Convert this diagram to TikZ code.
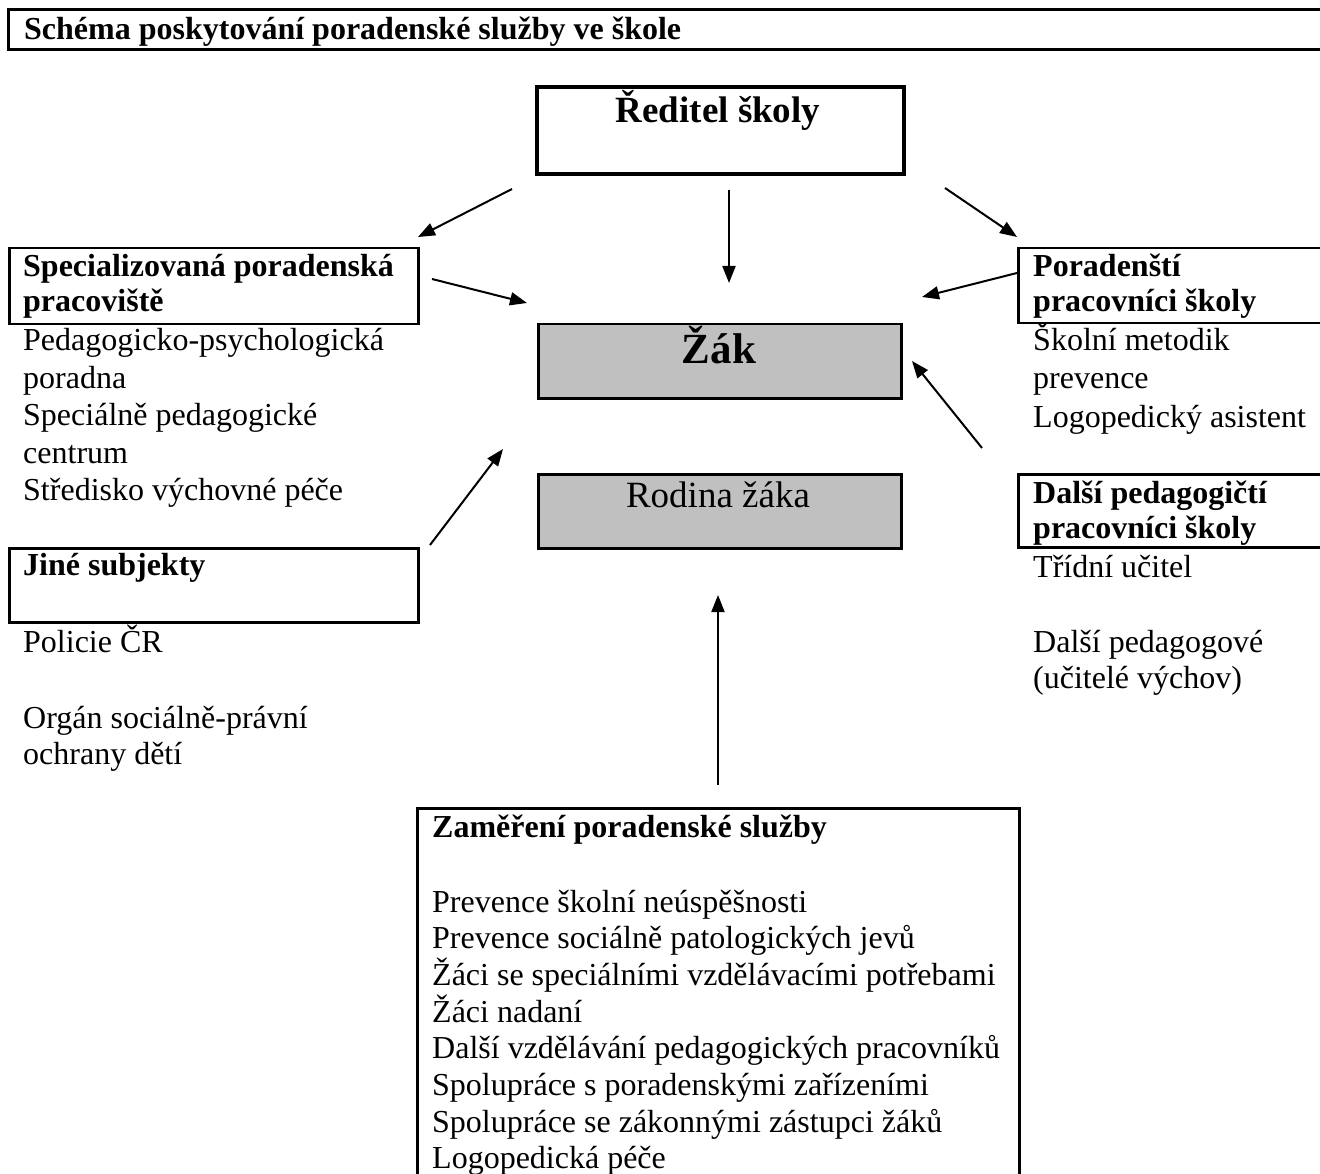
\documentclass[tikz,border=0pt]{standalone}
\usepackage{fontspec}
\setmainfont{Liberation Serif}
\usetikzlibrary{arrows.meta}
\definecolor{boxgray}{HTML}{C0C0C0}
\tikzset{
  frame/.style={draw, line width=#1, inner sep=0pt, anchor=north west},
  graybox/.style={draw, fill=boxgray, line width=2.5pt, inner sep=0pt, anchor=north west},
  txt/.style={anchor=base west, inner sep=0pt, font=\fontsize{32}{37}\selectfont},
  btxt/.style={anchor=base west, inner sep=0pt, font=\fontsize{32}{35}\selectfont\bfseries},
  arr/.style={line width=2pt, -{Triangle[length=17pt,width=13pt]}},
}
\begin{document}
\begin{tikzpicture}[x=1pt,y=-1pt]
\useasboundingbox (0,0) rectangle (1320,1174);
\clip (0,0) rectangle (1320,1174);
\fill[white] (0,0) rectangle (1320,1174);

% header
\node[frame=3pt, minimum width=1330pt, minimum height=40pt] (head) at (7,8) {};
\node[btxt] (title) at (24,40) {Schéma poskytování poradenské služby ve škole};

% director
\node[frame=4pt, minimum width=367pt, minimum height=87pt] (red) at (535,85) {};
\node[anchor=base, inner sep=0pt, font=\fontsize{37}{40}\selectfont\bfseries] (redt) at (718,123) {Ředitel školy};

% pupil and family
\node[graybox, minimum width=363pt, minimum height=74pt] (zak) at (537,323) {};
\node[anchor=base, inner sep=0pt, font=\fontsize{43}{46}\selectfont\bfseries] (zakt) at (719,363) {Žák};
\node[graybox, minimum width=363pt, minimum height=74pt] (rod) at (537,473) {};
\node[anchor=base, inner sep=0pt, font=\fontsize{37}{40}\selectfont] (rodt) at (718,507) {Rodina žáka};

% left: specialised
\node[frame=2.5pt, minimum width=409pt, minimum height=76pt] (spec) at (8,247) {};
\node[btxt] (spec1) at (23,277) {Specializovaná poradenská};
\node[btxt] (spec2) at (23,312) {pracoviště};
\node[txt] (sl1) at (23,350) {Pedagogicko-psychologická};
\node[txt] (sl2) at (23,388) {poradna};
\node[txt] (sl3) at (23,425) {Speciálně pedagogické};
\node[txt] (sl4) at (23,463) {centrum};
\node[txt] (sl5) at (23,500) {Středisko výchovné péče};

% left: other subjects
\node[frame=2.5pt, minimum width=409pt, minimum height=74pt] (jine) at (8,547) {};
\node[btxt] (jine1) at (23,575) {Jiné subjekty};
\node[txt] (jl1) at (23,652) {Policie ČR};
\node[txt] (jl2) at (23,728) {Orgán sociálně-právní};
\node[txt] (jl3) at (23,764) {ochrany dětí};

% right: counselling staff
\node[frame=2.5pt, minimum width=320pt, minimum height=75pt] (por) at (1017,247) {};
\node[btxt] (por1) at (1033,277) {Poradenští};
\node[btxt] (por2) at (1033,312) {pracovníci školy};
\node[txt] (pl1) at (1033,350) {Školní metodik};
\node[txt] (pl2) at (1033,388) {prevence};
\node[txt] (pl3) at (1033,427) {Logopedický asistent};

% right: other teachers
\node[frame=2.5pt, minimum width=320pt, minimum height=73pt] (dal) at (1017,473) {};
\node[btxt] (dal1) at (1033,503) {Další pedagogičtí};
\node[btxt] (dal2) at (1033,538) {pracovníci školy};
\node[txt] (dl1) at (1033,577) {Třídní učitel};
\node[txt] (dl2) at (1033,652) {Další pedagogové};
\node[txt] (dl3) at (1033,688) {(učitelé výchov)};

% bottom: focus
\node[frame=2.5pt, minimum width=602pt, minimum height=400pt] (zam) at (416,807) {};
\node[btxt] (zam0) at (432,837) {Zaměření poradenské služby};
\foreach \t [count=\i] in {Prevence školní neúspěšnosti,
  Prevence sociálně patologických jevů,
  Žáci se speciálními vzdělávacími potřebami,
  Žáci nadaní,
  Další vzdělávání pedagogických pracovníků,
  Spolupráce s poradenskými zařízeními,
  Spolupráce se zákonnými zástupci žáků,
  Logopedická péče}
  \node[txt] (zl\i) at (432,{912+36.7*(\i-1)}) {\t};

% arrow end points
\coordinate (a1s) at (512,189); \coordinate (a1e) at (418,237);
\coordinate (a2s) at (729,190); \coordinate (a2e) at (729,283);
\coordinate (a3s) at (945,188); \coordinate (a3e) at (1017,237);
\coordinate (a4s) at (432,279); \coordinate (a4e) at (527,303);
\coordinate (a5s) at (1017,273); \coordinate (a5e) at (922,297);
\coordinate (a6s) at (430,545); \coordinate (a6e) at (503,449);
\coordinate (a7s) at (982,448); \coordinate (a7e) at (912,361);
\coordinate (a8s) at (718,785); \coordinate (a8e) at (718,595);

\draw[arr] (a1s) -- (a1e);
\draw[arr] (a2s) -- (a2e);
\draw[arr] (a3s) -- (a3e);
\draw[arr] (a4s) -- (a4e);
\draw[arr] (a5s) -- (a5e);
\draw[arr] (a6s) -- (a6e);
\draw[arr] (a7s) -- (a7e);
\draw[arr] (a8s) -- (a8e);
\end{tikzpicture}
\end{document}
